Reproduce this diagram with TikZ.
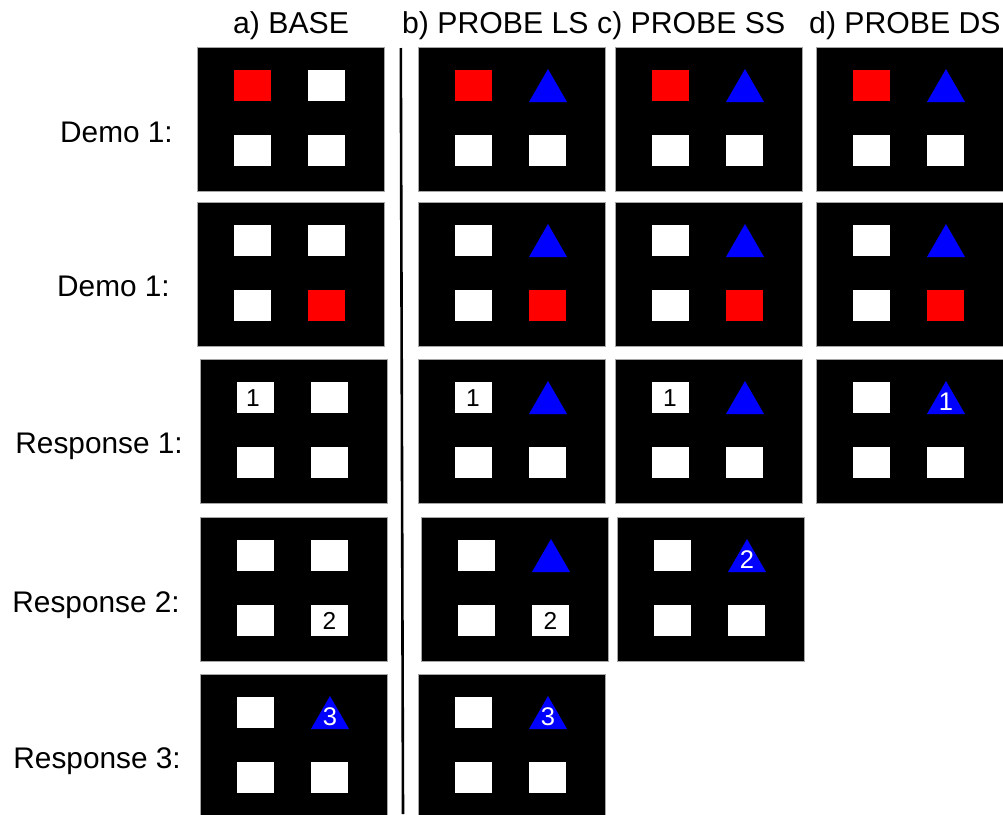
\documentclass[tikz,border=0pt]{standalone}
\usepackage{fontspec}
\setmainfont{Liberation Sans}
\newcommand{\pbox}{\filldraw[panelbg] (0,0) rectangle (187,144);}
\newcommand{\sqx}[3]{\fill[#3] (#1,#2) rectangle ++(37,31);}
\newcommand{\trix}{\fill[tri] (111,55) -- (149,55) -- (130,22) -- cycle;}
\begin{document}
\begin{tikzpicture}[x=1pt,y=-1pt,
  panelbg/.style={fill=black,draw=black!35,line width=0.9pt},
  tri/.style={fill=blue},
  lab/.style={font=\fontsize{29.8}{35}\selectfont,inner sep=0pt,anchor=base east},
  head/.style={font=\fontsize{30.2}{35}\selectfont,inner sep=0pt,anchor=base west},
  bnum/.style={font=\fontsize{24.5}{26}\selectfont,inner sep=0pt,text=black},
  wnum/.style={font=\fontsize{25.5}{27}\selectfont,inner sep=0pt,text=white},
]
\useasboundingbox (0,0) rectangle (1003,814);
\clip (0,0) rectangle (1003,814);

% headers
\node[head] (ha) at (233,33) {a) BASE};
\node[head] (hb) at (402,33) {b) PROBE LS};
\node[head] (hc) at (597,33) {c) PROBE SS};
\node[head] (hd) at (809,33) {d) PROBE DS};

% row labels
\node[lab] (l1) at (173,142) {Demo 1:};
\node[lab] (l2) at (170,296) {Demo 1:};
\node[lab] (l3) at (183,453) {Response 1:};
\node[lab] (l4) at (180,612) {Response 2:};
\node[lab] (l5) at (181,768) {Response 3:};

% divider
\coordinate (vt) at (400.8,48);
\coordinate (vb) at (403,814);
\draw[line width=2.6pt] (vt) -- (vb);

% ---- row 1
\begin{scope}[shift={(197,47)}]
\pbox \sqx{37}{23}{red} \sqx{111}{23}{white} \sqx{37}{88}{white} \sqx{111}{88}{white}
\end{scope}
\foreach \px in {418,615,816}{
\begin{scope}[shift={(\px,47)}]
\pbox \sqx{37}{23}{red} \trix \sqx{37}{88}{white} \sqx{111}{88}{white}
\end{scope}}

% ---- row 2
\begin{scope}[shift={(197,202)}]
\pbox \sqx{37}{23}{white} \sqx{111}{23}{white} \sqx{37}{88}{white} \sqx{111}{88}{red}
\end{scope}
\foreach \px in {418,615,816}{
\begin{scope}[shift={(\px,202)}]
\pbox \sqx{37}{23}{white} \trix \sqx{37}{88}{white} \sqx{111}{88}{red}
\end{scope}}

% ---- row 3
\begin{scope}[shift={(200,359)}]
\pbox \sqx{37}{23}{white} \sqx{111}{23}{white} \sqx{37}{88}{white} \sqx{111}{88}{white}
\node[bnum] (a3n) at (53,39.5) {1};
\end{scope}
\begin{scope}[shift={(418,359)}]
\pbox \sqx{37}{23}{white} \trix \sqx{37}{88}{white} \sqx{111}{88}{white}
\node[bnum] (b3n) at (55,39.5) {1};
\end{scope}
\begin{scope}[shift={(615,359)}]
\pbox \sqx{37}{23}{white} \trix \sqx{37}{88}{white} \sqx{111}{88}{white}
\node[bnum] (c3n) at (55,39.5) {1};
\end{scope}
\begin{scope}[shift={(816,359)}]
\pbox \sqx{37}{23}{white} \trix \sqx{37}{88}{white} \sqx{111}{88}{white}
\node[wnum] (d3n) at (130,43) {1};
\end{scope}

% ---- row 4
\begin{scope}[shift={(200,517)}]
\pbox \sqx{37}{23}{white} \sqx{111}{23}{white} \sqx{37}{88}{white} \sqx{111}{88}{white}
\node[bnum] (a4n) at (129.5,104) {2};
\end{scope}
\begin{scope}[shift={(421,517)}]
\pbox \sqx{37}{23}{white} \trix \sqx{37}{88}{white} \sqx{111}{88}{white}
\node[bnum] (b4n) at (129.5,104) {2};
\end{scope}
\begin{scope}[shift={(617,517)}]
\pbox \sqx{37}{23}{white} \trix \sqx{37}{88}{white} \sqx{111}{88}{white}
\node[wnum] (c4n) at (130,43) {2};
\end{scope}

% ---- row 5
\begin{scope}[shift={(200,674)}]
\pbox \sqx{37}{23}{white} \trix \sqx{37}{88}{white} \sqx{111}{88}{white}
\node[wnum] (a5n) at (130,43) {3};
\end{scope}
\begin{scope}[shift={(418,674)}]
\pbox \sqx{37}{23}{white} \trix \sqx{37}{88}{white} \sqx{111}{88}{white}
\node[wnum] (b5n) at (130,43) {3};
\end{scope}
\end{tikzpicture}
\end{document}
